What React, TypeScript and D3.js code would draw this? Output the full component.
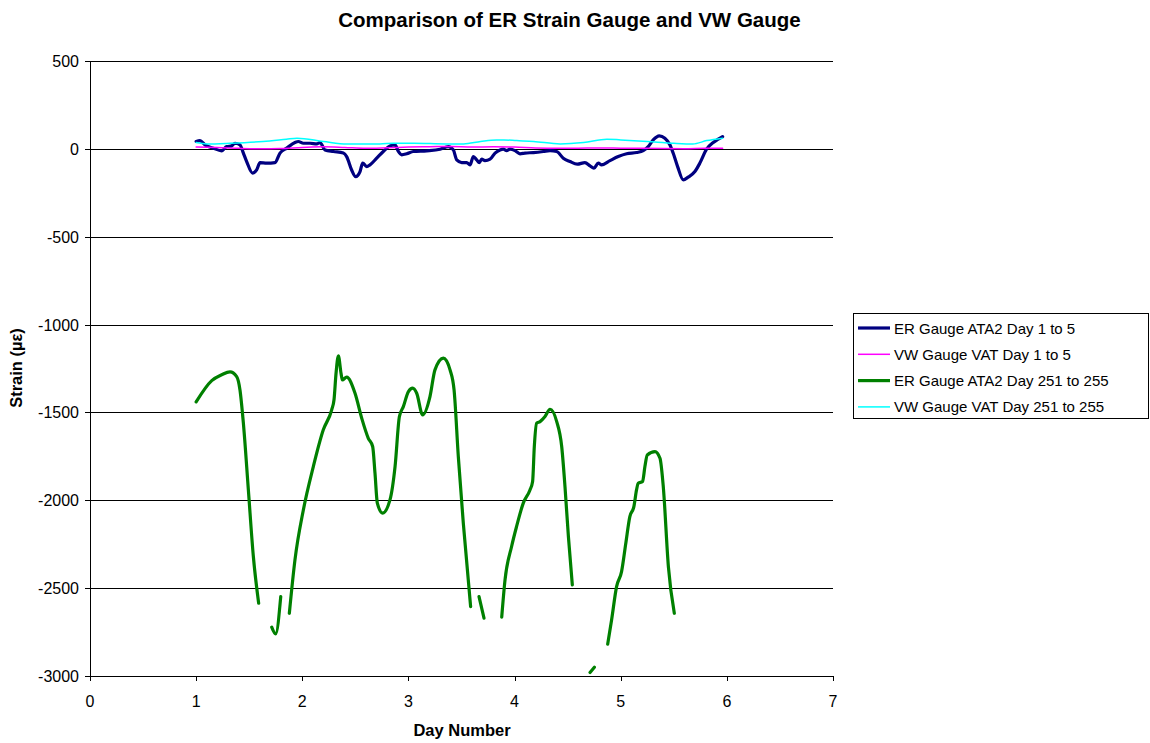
import React from "react";
import * as d3 from "d3";

const xTicks = [0, 1, 2, 3, 4, 5, 6, 7];
const yTicks = [500, 0, -500, -1000, -1500, -2000, -2500, -3000];

const seriesNames = [
  "ER Gauge ATA2 Day 1 to 5",
  "VW Gauge VAT Day 1 to 5",
  "ER Gauge ATA2 Day 251 to 255",
  "VW Gauge VAT Day 251 to 255",
];
const seriesColors = ["#000080", "#FF00FF", "#008000", "#00FFFF"];
const seriesWidths = [3.2, 1.5, 3.2, 1.5];

// ER Gauge ATA2 Day 1 to 5
const erEarlyDays = [1.0, 1.036, 1.083, 1.162, 1.24, 1.287, 1.335, 1.366, 1.413, 1.445, 1.476, 1.532, 1.57, 1.602, 1.665, 1.743, 1.79, 1.853, 1.931, 1.963, 2.01, 2.073, 2.136, 2.167, 2.214, 2.293, 2.387, 2.418, 2.465, 2.503, 2.544, 2.569, 2.607, 2.638, 2.701, 2.763, 2.826, 2.874, 2.905, 2.937, 2.984, 3.046, 3.172, 3.298, 3.376, 3.423, 3.455, 3.502, 3.549, 3.58, 3.612, 3.643, 3.668, 3.69, 3.721, 3.769, 3.816, 3.863, 3.894, 3.925, 3.957, 4.004, 4.051, 4.098, 4.177, 4.271, 4.334, 4.397, 4.459, 4.522, 4.591, 4.663, 4.711, 4.748, 4.789, 4.82, 4.899, 4.977, 5.056, 5.15, 5.212, 5.259, 5.306, 5.363, 5.416, 5.463, 5.494, 5.536, 5.589, 5.636, 5.699, 5.746, 5.809, 5.872, 5.919, 5.96];
const erEarlyValues = [42, 47, 23, 4, -11, 13, 17, 32, 23, -24, -72, -138, -120, -78, -81, -78, -24, 4, 36, 42, 32, 32, 28, 36, -6, -15, -24, -44, -120, -158, -129, -81, -101, -91, -53, -15, 17, 23, -15, -34, -28, -15, -11, -2, 13, -6, -63, -78, -78, -91, -44, -63, -78, -59, -67, -59, -24, -6, -2, -10, -2, -10, -28, -24, -21, -15, -10, -15, -53, -72, -87, -78, -97, -110, -81, -91, -67, -44, -28, -21, -10, 13, 51, 74, 61, 23, -24, -101, -176, -161, -129, -81, -2, 36, 55, 70];

// VW Gauge VAT Day 1 to 5
const vwEarlyDays = [1.0, 1.2, 1.4, 1.6, 1.8, 2.0, 2.2, 2.4, 2.6, 2.8, 3.0, 3.2, 3.4, 3.6, 3.8, 4.0, 4.2, 4.4, 4.6, 4.8, 5.0, 5.2, 5.4, 5.6, 5.8, 5.96];
const vwEarlyValues = [10, 8, 3, 0, 2, 8, 12, 8, 3, 6, 10, 12, 14, 10, 12, 10, 5, 3, 4, 5, 4, 3, 2, 1, 3, 3];

// ER Gauge ATA2 Day 251 to 255 (null = gap in record)
const erLateDays = [1.0, 1.147, 1.24, 1.319, 1.382, 1.413, 1.445, 1.492, 1.539, 1.589, null,
  1.712, 1.749, 1.797, null,
  1.878, 1.931, 2.01, 2.104, 2.198, 2.277, 2.299, 2.318, 2.34, 2.365, 2.377, 2.418, 2.497, 2.56, 2.622, 2.663, 2.685, 2.707, 2.757, 2.826, 2.874, 2.915, 2.952, 3.0, 3.04, 3.078, 3.134, 3.203, 3.25, 3.329, 3.392, 3.43, 3.47, 3.517, 3.586, null,
  3.665, 3.712, null,
  3.879, 3.91, 3.972, 4.019, 4.082, 4.145, 4.17, 4.186, 4.208, 4.24, 4.287, 4.334, 4.397, 4.444, 4.475, 4.507, 4.544, null,
  4.711, 4.752, null,
  4.877, 4.914, 4.961, 5.008, 5.048, 5.086, 5.124, 5.149, 5.165, 5.206, 5.228, 5.25, 5.323, 5.37, 5.401, 5.449, 5.505];
const erLateValues = [-1440, -1319, -1286, -1269, -1296, -1372, -1561, -1941, -2320, -2586, null,
  -2722, -2760, -2548, null,
  -2643, -2339, -2055, -1808, -1599, -1485, -1428, -1277, -1178, -1277, -1315, -1299, -1391, -1533, -1647, -1694, -1846, -2016, -2073, -1998, -1808, -1523, -1467, -1381, -1362, -1391, -1514, -1410, -1258, -1191, -1258, -1372, -1751, -2130, -2605, null,
  -2548, -2671, null,
  -2665, -2453, -2263, -2149, -2016, -1941, -1893, -1694, -1561, -1552, -1523, -1482, -1552, -1694, -1922, -2206, -2481, null,
  -2980, -2950, null,
  -2819, -2681, -2491, -2406, -2244, -2093, -2036, -1941, -1903, -1893, -1808, -1742, -1723, -1761, -1922, -2377, -2643];

// VW Gauge VAT Day 251 to 255
const vwLateDays = [1.0, 1.1, 1.32, 1.63, 1.85, 1.95, 2.2, 2.42, 2.73, 2.86, 3.05, 3.36, 3.52, 3.68, 3.83, 3.9, 4.02, 4.18, 4.43, 4.65, 4.87, 5.0, 5.25, 5.5, 5.68, 5.81, 5.96];
const vwLateValues = [36, 28, 32, 42, 55, 61, 42, 28, 28, 32, 32, 28, 28, 42, 51, 51, 47, 42, 28, 36, 55, 51, 42, 32, 28, 47, 61];

const W = 1150, H = 743;
const plot = { left: 90, right: 833, top: 61, bottom: 676 };
const FONT = "'Liberation Sans', Arial, sans-serif";

export default function App() {
  const x = d3.scaleLinear().domain([0, 7]).range([plot.left, plot.right]);
  const y = d3.scaleLinear().domain([-3000, 500]).range([plot.bottom, plot.top]);

  const mk = (days: (number | null)[], vals: (number | null)[]) =>
    days.map((d, i) => [d, vals[i]] as [number | null, number | null]);

  const line = d3
    .line<[number | null, number | null]>()
    .defined((p) => p[0] !== null && p[1] !== null)
    .x((p) => x(p[0] as number))
    .y((p) => y(p[1] as number))
    .curve(d3.curveMonotoneX);

  const series = [
    mk(erEarlyDays, erEarlyValues),
    mk(vwEarlyDays, vwEarlyValues),
    mk(erLateDays, erLateValues),
    mk(vwLateDays, vwLateValues),
  ];
  const drawOrder = [0, 1, 2, 3];

  const legend = { x: 853, y: 313, w: 295, h: 105 };

  return (
    <svg width={W} height={H} style={{ position: "absolute", left: 0, top: 0, background: "#fff" }}>
      <rect x={0} y={0} width={W} height={H} fill="#fff" />
      <text x={569.5} y={27} textAnchor="middle" fontFamily={FONT} fontWeight="bold" fontSize={20.5}>
        Comparison of ER Strain Gauge and VW Gauge
      </text>
      {yTicks.map((t) => (
        <g key={t}>
          <line x1={plot.left} x2={plot.right} y1={Math.round(y(t)) + 0.5} y2={Math.round(y(t)) + 0.5} stroke="#000" strokeWidth={1} />
          <line x1={plot.left - 5} x2={plot.left} y1={Math.round(y(t)) + 0.5} y2={Math.round(y(t)) + 0.5} stroke="#000" />
          <text x={plot.left - 11} y={y(t) + 6} textAnchor="end" fontFamily={FONT} fontSize={16}>
            {t}
          </text>
        </g>
      ))}
      <line x1={plot.left + 0.5} x2={plot.left + 0.5} y1={plot.top} y2={plot.bottom} stroke="#000" />
      {xTicks.map((t) => (
        <g key={t}>
          <line x1={Math.round(x(t)) + 0.5} x2={Math.round(x(t)) + 0.5} y1={plot.bottom} y2={plot.bottom + 5} stroke="#000" />
          <text x={x(t)} y={plot.bottom + 31} textAnchor="middle" fontFamily={FONT} fontSize={16}>
            {t}
          </text>
        </g>
      ))}
      <text x={462} y={736} textAnchor="middle" fontFamily={FONT} fontWeight="bold" fontSize={16.5}>
        Day Number
      </text>
      <text transform={`translate(22,368) rotate(-90)`} textAnchor="middle" fontFamily={FONT} fontWeight="bold" fontSize={16.5}>
        Strain (µε)
      </text>
      {drawOrder.map((i) => (
        <path key={i} d={line(series[i]) || ""} fill="none" stroke={seriesColors[i]} strokeWidth={seriesWidths[i]} strokeLinejoin="round" strokeLinecap="round" />
      ))}
      <rect x={legend.x + 0.5} y={legend.y + 0.5} width={legend.w} height={legend.h} fill="#fff" stroke="#000" />
      {seriesNames.map((n, i) => {
        const ly = legend.y + 15 + i * 26.3;
        return (
          <g key={n}>
            <line x1={legend.x + 5} x2={legend.x + 37} y1={ly} y2={ly} stroke={seriesColors[i]} strokeWidth={seriesWidths[i]} />
            <text x={legend.x + 41} y={ly + 5.5} fontFamily={FONT} fontSize={15}>
              {n}
            </text>
          </g>
        );
      })}
    </svg>
  );
}
